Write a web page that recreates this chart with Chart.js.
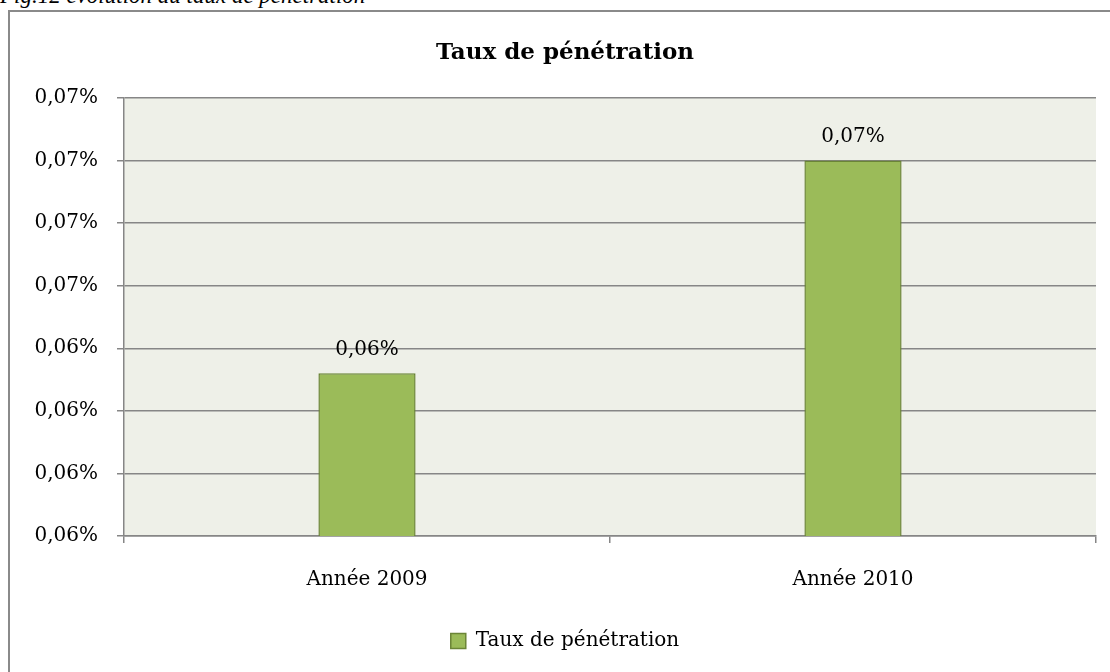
<!DOCTYPE html>
<html>
<head>
<meta charset="utf-8">
<script src="https://cdn.jsdelivr.net/npm/chart.js@4"></script>
<style>
  body { margin: 0; background: #fff; overflow: hidden; }
  #wrap { position: relative; width: 1110px; height: 672px; }
  #caption {
    position: absolute; left: 0; top: -15px;
    font: italic 23px "Liberation Serif", serif; line-height: 22px;
    white-space: nowrap; color: #000;
  }
  #frame {
    position: absolute; left: 8px; top: 10px; width: 1200px; height: 800px;
    border: 2px solid #8a8a8a; pointer-events: none;
  }
  canvas { position: absolute; left: 0; top: 0; }
</style>
</head>
<body>
<div id="wrap">
  <div id="caption">Fig.12 évolution du taux de pénétration</div>
  <div id="frame"></div>
  <canvas id="penChart" width="1110" height="672"></canvas>
</div>
<script>
// data (in percent)
const categories = ['Année 2009', 'Année 2010'];
const seriesName = 'Taux de pénétration';
const penetration = [0.0636, 0.0670];
const yMin = 0.061;
const yMax = 0.068;
const yStep = 0.001;

const serif = '"DejaVu Serif", serif';
const gridColor = '#868686';

function fmtPct(v) {
    const r = Math.round(v * 100 + 1e-9) / 100;
    return r.toFixed(2).replace('.', ',') + '%';
}

const plotBg = {
    id: 'plotBg',
    beforeDraw(chart) {
        const a = chart.chartArea;
        const ctx = chart.ctx;
        ctx.save();
        ctx.fillStyle = '#eef0e8';
        ctx.fillRect(a.left, a.top, a.right - a.left, a.bottom - a.top);
        ctx.restore();
    }
};

const valueLabels = {
    id: 'valueLabels',
    afterDatasetsDraw(chart) {
        const ctx = chart.ctx;
        const meta = chart.getDatasetMeta(0);
        ctx.save();
        ctx.font = '20px ' + serif;
        ctx.fillStyle = '#000';
        ctx.textAlign = 'center';
        ctx.textBaseline = 'middle';
        meta.data.forEach((bar, i) => {
            ctx.fillText(fmtPct(chart.data.datasets[0].data[i]), bar.x, bar.y - 24);
        });
        ctx.restore();
    }
};

const ctx = document.getElementById('penChart').getContext('2d');
new Chart(ctx, {
    type: 'bar',
    data: {
        labels: categories,
        datasets: [{
            label: seriesName,
            data: penetration,
            backgroundColor: '#9bbb59',
            borderColor: '#6b8537',
            borderWidth: 1.5,
            categoryPercentage: 0.2,
            barPercentage: 1
        }]
    },
    options: {
        responsive: false,
        animation: false,
        layout: { padding: { left: 34, right: 14, top: 0, bottom: 11 } },
        plugins: {
            title: {
                display: true,
                text: 'Taux de pénétration',
                color: '#000',
                font: { family: serif, size: 23, weight: 'bold', lineHeight: 1.2 },
                padding: { top: 39, bottom: 31.4 }
            },
            legend: {
                position: 'bottom',
                labels: {
                    color: '#000',
                    font: { family: serif, size: 20 },
                    boxWidth: 15,
                    boxHeight: 15,
                    padding: 35
                }
            },
            tooltip: { enabled: false }
        },
        scales: {
            x: {
                grid: {
                    offset: true,
                    drawOnChartArea: false,
                    drawTicks: true,
                    tickLength: 7,
                    lineWidth: 1.5,
                    color: gridColor
                },
                border: { display: true, color: gridColor, width: 1.5 },
                ticks: { color: '#000', font: { family: serif, size: 20 }, padding: 25 },
                afterFit: s => { s.height = 60; }
            },
            y: {
                min: yMin,
                max: yMax,
                grid: { color: gridColor, lineWidth: 1.5, tickLength: 7 },
                border: { display: true, color: gridColor, width: 1.5 },
                ticks: {
                    stepSize: yStep,
                    color: '#000',
                    font: { family: serif, size: 20 },
                    padding: 19,
                    callback: v => fmtPct(v)
                },
                afterFit: s => { s.width = 90; }
            }
        }
    },
    plugins: [plotBg, valueLabels]
});
</script>
</body>
</html>
